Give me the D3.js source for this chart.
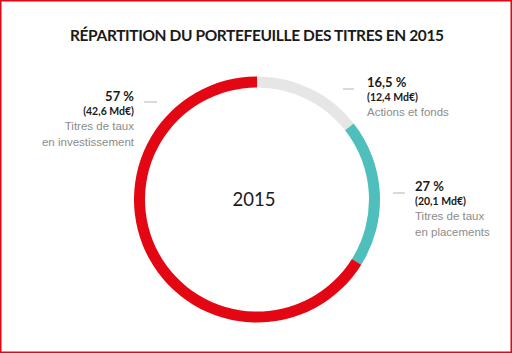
<!DOCTYPE html>
<html>
<head>
<meta charset="utf-8">
<script src="https://cdn.jsdelivr.net/npm/d3@7"></script>
<style>
  body { margin: 0; background: #fff; }
  svg { display: block; }
</style>
</head>
<body>
<script>
let width = 512;
let height = 353;

// segments clockwise from 12 o'clock
var segments = ['Actions et fonds', 'Titres de taux en placements', 'Titres de taux en investissement'];
var arcShare = [14.4, 19.5, 66.1]; // arc sizes as drawn in the picture
var colors = ['#e6e6e6', '#4fbfbc', '#e30613'];
var pctLabels = ['16,5 %', '27 %', '57 %'];
var amountLabels = ['(12,4 Md€)', '(20,1 Md€)', '(42,6 Md€)'];
var nameLines = [['Actions et fonds'], ['Titres de taux', 'en placements'], ['Titres de taux', 'en investissement']];

var title = 'RÉPARTITION DU PORTEFEUILLE DES TITRES EN 2015';
var centerLabel = '2015';

var cx = 257, cy = 199.5;
var outerR = 123, innerR = 112;

var svg = d3.select('body')
            .append('svg')
            .attr('width', width)
            .attr('height', height);

svg.append('rect')
   .attr('x', 0.75).attr('y', 0.75)
   .attr('width', width - 1.5).attr('height', height - 1.5)
   .attr('fill', '#fff')
   .attr('stroke', '#e30613')
   .attr('stroke-width', 1.5);

svg.append('text')
   .attr('x', 257).attr('y', 40.5)
   .attr('text-anchor', 'middle')
   .attr('font-family', 'Lato, sans-serif')
   .attr('font-weight', 700)
   .attr('font-size', 15.5)
   .attr('fill', '#1a1a1a')
   .attr('textLength', 374)
   .text(title);

var pie = d3.pie().sort(null).value(d => d);
var arc = d3.arc().innerRadius(innerR).outerRadius(outerR);

var g = svg.append('g').attr('transform', 'translate(' + cx + ',' + cy + ')');

g.selectAll('path')
 .data(pie(arcShare))
 .enter()
 .append('path')
 .attr('d', arc)
 .attr('fill', (d, i) => colors[i]);

g.append('text')
 .attr('x', -3).attr('y', 6)
 .attr('text-anchor', 'middle')
 .attr('font-family', 'Lato, sans-serif')
 .attr('font-size', 18.5)
 .attr('fill', '#1a1a1a')
 .text(centerLabel);

// label blocks: anchor x, baseline of first line, dash line, alignment
var labelPos = [
  { x: 367, y: 87, dash: [343, 354, 89], anchor: 'start' },
  { x: 415, y: 191, dash: [393, 405, 193], anchor: 'start' },
  { x: 134, y: 101, dash: [144, 157, 102], anchor: 'end' }
];

labelPos.forEach(function(p, i) {
  svg.append('line')
     .attr('x1', p.dash[0]).attr('x2', p.dash[1])
     .attr('y1', p.dash[2]).attr('y2', p.dash[2])
     .attr('stroke', '#b5b5b5')
     .attr('stroke-width', 1);

  svg.append('text')
     .attr('x', p.x).attr('y', p.y)
     .attr('text-anchor', p.anchor)
     .attr('font-family', 'Lato, sans-serif')
     .attr('font-weight', 700)
     .attr('font-size', 13)
     .attr('fill', '#1a1a1a')
     .text(pctLabels[i]);

  svg.append('text')
     .attr('x', p.x).attr('y', p.y + 14)
     .attr('text-anchor', p.anchor)
     .attr('font-family', 'Lato, sans-serif')
     .attr('font-weight', 700)
     .attr('font-size', 10.5)
     .attr('fill', '#1a1a1a')
     .text(amountLabels[i]);

  nameLines[i].forEach(function(line, j) {
    svg.append('text')
       .attr('x', p.x).attr('y', p.y + 29 + j * 15.5)
       .attr('text-anchor', p.anchor)
       .attr('font-family', 'Liberation Sans, Arial, sans-serif')
       .attr('font-size', 11.5)
       .attr('fill', '#8c8c8c')
       .text(line);
  });
});
</script>
</body>
</html>
